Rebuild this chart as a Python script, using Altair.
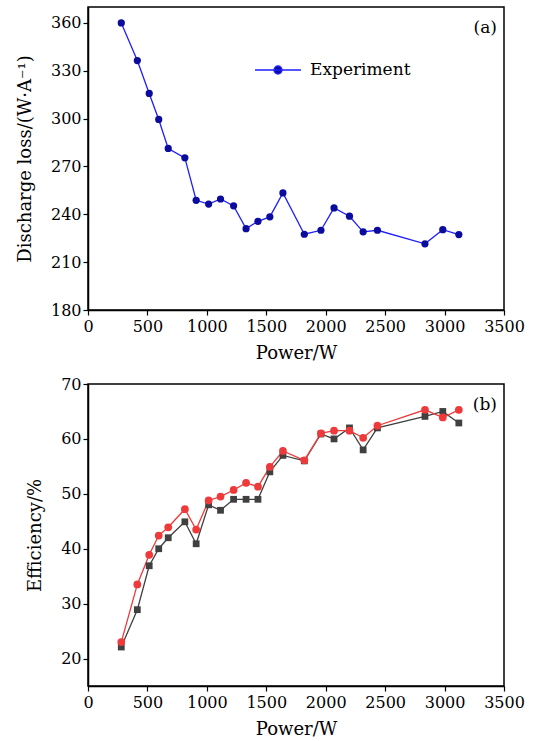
import altair as alt
import pandas as pd

# ---- data ----
power = [280, 415, 515, 595, 675, 815, 910, 1015, 1115, 1225, 1330, 1430,
         1530, 1640, 1820, 1960, 2070, 2200, 2315, 2435, 2835, 2985, 3120]
discharge_loss = [360, 336.4, 315.8, 299.5, 281.3, 275.4, 248.8, 246.4, 249.6,
                  245.3, 231, 235.6, 238.4, 253.4, 227.5, 230, 244, 238.8,
                  229, 230, 221.5, 230.4, 227.3]
eff_theoretical = [22.1, 28.9, 36.9, 40, 42, 44.9, 40.9, 48, 47, 49, 49, 49,
                   54, 57, 56, 60.9, 60, 62, 58, 62, 64.1, 65, 62.9]
eff_experimental = [23, 33.5, 38.9, 42.4, 43.9, 47.2, 43.5, 48.8, 49.5, 50.7,
                    52, 51.3, 54.9, 57.8, 56.1, 61, 61.5, 61.5, 60.2, 62.4,
                    65.3, 63.9, 65.3]
series_top = ["Experiment"]
series_bottom = ["Theoretical data", "Experimental data"]
x_ticks = list(range(0, 3501, 250))
y_ticks_top = list(range(180, 371, 15))
y_ticks_bottom = list(range(20, 71, 5))

FONT = "DejaVu Serif"
BLUE_LINE = "#1f1fff"
BLUE_MARK = "#0b0b9e"
GRAY = "#404040"
RED = "#ee3a3a"

top_df = pd.DataFrame({"power": power, "loss": discharge_loss,
                       "series": series_top * len(power)})
bottom_df = pd.concat([
    pd.DataFrame({"power": power, "eff": eff_theoretical,
                  "series": series_bottom[0]}),
    pd.DataFrame({"power": power, "eff": eff_experimental,
                  "series": series_bottom[1]}),
], ignore_index=True)

PW, PH = 416, 303

def x_axis():
    return alt.Axis(values=x_ticks, title="Power/W",
                    labelExpr="datum.value % 500 == 0 ? format(datum.value, 'd') : ''",
                    tickSize=5, labelPadding=3, titlePadding=10,
                    labelFlush=False, labelOverlap=False, grid=False)

x_scale = alt.Scale(domain=[0, 3500], nice=False, zero=False)

# ---------- top panel ----------
top_circle = "M-2.875,0H2.875M0.5,0A0.5,0.5,0,1,1,-0.5,0A0.5,0.5,0,1,1,0.5,0Z"
top_legend = alt.Legend(
    title=None, orient="none", legendX=181, legendY=54, padding=0,
    symbolSize=256, symbolStrokeWidth=1.3, labelOffset=23,
    labelFontSize=17, labelFont=FONT, labelColor="black",
    symbolType=top_circle, symbolStrokeColor=BLUE_LINE,
)
top_line = alt.Chart(top_df).mark_line(color=BLUE_LINE, strokeWidth=1.3).encode(
    x=alt.X("power:Q", scale=x_scale, axis=x_axis()),
    y=alt.Y("loss:Q", scale=alt.Scale(domain=[180, 370], nice=False, zero=False),
            axis=alt.Axis(values=y_ticks_top, title="Discharge loss/(W·A⁻¹)",
                          labelExpr="datum.value % 30 == 0 ? format(datum.value, 'd') : ''",
                          tickSize=5, labelPadding=2, titlePadding=16,
                          labelFlush=False, labelOverlap=False, grid=False)),
)
top_pts = alt.Chart(top_df).mark_point(filled=True, size=52, opacity=1,
                                       shape="circle").encode(
    x="power:Q", y="loss:Q",
    fill=alt.Fill("series:N", scale=alt.Scale(domain=series_top,
                                              range=[BLUE_MARK]),
                  legend=top_legend),
)
top_tag = alt.Chart(pd.DataFrame({"t": ["(a)"]})).mark_text(
    align="right", baseline="middle", font=FONT, fontSize=17, color="black"
).encode(text="t:N", x=alt.value(409), y=alt.value(21))
top = alt.layer(top_line, top_pts, top_tag).properties(width=PW, height=PH)

# ---------- bottom panel ----------
def ring(r):
    return f"M{r},0A{r},{r},0,1,1,-{r},0A{r},{r},0,1,1,{r},0Z"

def sq_ring(h):
    return f"M-{h},-{h}H{h}V{h}H-{h}Z"

LINE = "M-2.44,0H2.44"
sq_sym = LINE + "".join(sq_ring(h) for h in (0.38, 0.24, 0.1))
ci_sym = LINE + "".join(ring(r) for r in (0.47, 0.33, 0.19, 0.06))

bottom_legend = alt.Legend(
    title=None, orient="none", legendX=176, legendY=220, padding=0,
    symbolSize=256, symbolStrokeWidth=1.3, labelOffset=20, rowPadding=8,
    labelFontSize=17, labelFont=FONT, labelColor="black",
)
color_scale = alt.Scale(domain=series_bottom, range=[GRAY, RED])
bottom_line = alt.Chart(bottom_df).mark_line(strokeWidth=1.3).encode(
    x=alt.X("power:Q", scale=x_scale, axis=x_axis()),
    y=alt.Y("eff:Q", scale=alt.Scale(domain=[15, 70], nice=False, zero=False),
            axis=alt.Axis(values=y_ticks_bottom, title="Efficiency/%",
                          labelExpr="datum.value % 10 == 0 ? format(datum.value, 'd') : ''",
                          tickSize=5, labelPadding=2, titlePadding=16,
                          labelFlush=False, labelOverlap=False, grid=False)),
    color=alt.Color("series:N", scale=color_scale, legend=None),
    detail="series:N",
)
squares = alt.Chart(bottom_df).transform_filter(
    alt.datum.series == series_bottom[0]
).mark_point(filled=True, opacity=1, shape="square", size=46, color=GRAY).encode(
    x="power:Q", y="eff:Q")
circles = alt.Chart(bottom_df).transform_filter(
    alt.datum.series == series_bottom[1]
).mark_point(filled=True, opacity=1, shape="circle", size=60, color=RED).encode(
    x="power:Q", y="eff:Q")
# legend-only layer (draws no rows): line + marker symbol for each series
legend_layer = alt.Chart(bottom_df).transform_filter("false").mark_point(
    filled=False, opacity=1, strokeWidth=1.3
).encode(
    x="power:Q", y="eff:Q",
    color=alt.Color("series:N", scale=color_scale, legend=bottom_legend),
    shape=alt.Shape("series:N", scale=alt.Scale(domain=series_bottom,
                                                range=[sq_sym, ci_sym]),
                    legend=bottom_legend),
)
bottom_tag = alt.Chart(pd.DataFrame({"t": ["(b)"]})).mark_text(
    align="right", baseline="middle", font=FONT, fontSize=17, color="black"
).encode(text="t:N", x=alt.value(409), y=alt.value(21))
bottom = alt.layer(bottom_line, squares, circles, legend_layer,
                   bottom_tag).properties(width=PW, height=PH - 1)

chart = alt.vconcat(top, bottom, spacing=12).resolve_scale(
    fill="independent", color="independent", shape="independent",
    x="independent", y="independent",
).resolve_legend(fill="independent", color="independent",
                 shape="independent").properties(
    padding={"left": 15, "top": 6, "right": 5, "bottom": 5},
    background="white",
).configure_view(stroke="black", strokeWidth=1.5).configure_axis(
    domainColor="black", domainWidth=1.5, tickColor="black", tickWidth=1.2,
    labelFont=FONT, labelFontSize=16, labelColor="black",
    titleFont=FONT, titleFontSize=18, titleColor="black", titleFontWeight="normal",
)

chart.save("out.html", embed_options={"renderer": "svg", "actions": False})
